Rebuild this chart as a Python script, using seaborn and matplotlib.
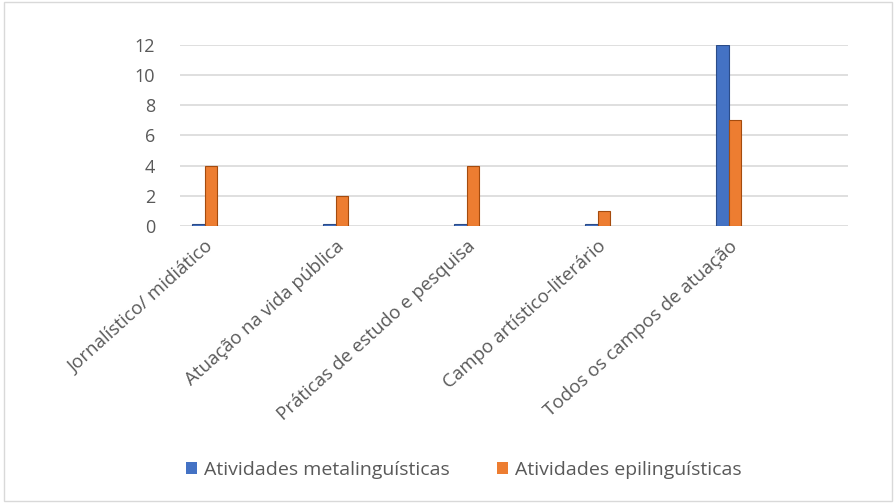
import matplotlib
matplotlib.use("Agg")
import matplotlib.pyplot as plt
import seaborn as sns
import pandas as pd
from matplotlib.patches import Patch

categories = ["Jornalístico/ midiático", "Atuação na vida pública",
              "Práticas de estudo e pesquisa", "Campo artístico-literário",
              "Todos os campos de atuação"]
series_names = ["Atividades metalinguísticas", "Atividades epilinguísticas"]
meta_values = [0, 0, 0, 0, 12]
epi_values = [4, 2, 4, 1, 7]
yticks = [0, 2, 4, 6, 8, 10, 12]

colors = ["#4472C4", "#ED7D31"]

df = pd.DataFrame({
    "categoria": categories * 2,
    "serie": [series_names[0]] * len(categories) + [series_names[1]] * len(categories),
    "valor": meta_values + epi_values,
})

sns.set_theme(style="white")
plt.rcParams['font.family'] = ['Open Sans', 'DejaVu Sans']

fig = plt.figure(figsize=(8.96, 5.03), dpi=100)
ax = fig.add_axes([180/896, 1 - 226/503, (848-180)/896, (226-45)/503])

sns.barplot(data=df, x="categoria", y="valor", hue="serie", palette=colors,
            width=0.19, ax=ax, legend=False, saturation=1)

for patch, c in zip(ax.patches, [colors[0]]*5 + [colors[1]]*5):
    patch.set_edgecolor(sns.utils.set_hls_values(c, l=0.35))
    patch.set_linewidth(0.8)
    if patch.get_height() == 0:
        patch.set_height(0.12)

ax.set_ylim(0, 12)
ax.set_xlim(-0.19, 4.91)
ax.set_yticks(yticks)
ax.yaxis.grid(True, color="#d9d9d9", linewidth=1.2)
ax.set_axisbelow(True)
for s in ax.spines.values():
    s.set_visible(False)
ax.set_xlabel("")
ax.set_ylabel("")
ax.tick_params(axis="y", labelsize=13, labelcolor="#595959", length=0, pad=18)
ax.tick_params(axis="x", labelsize=13.5, labelcolor="#595959", length=0, pad=8)
for lbl in ax.get_xticklabels():
    lbl.set_rotation(42)
    lbl.set_ha("right")
    lbl.set_va("top")
    lbl.set_rotation_mode("anchor")

handles = [Patch(facecolor=c, edgecolor="none") for c in colors]
fig.legend(handles, series_names, loc="center", bbox_to_anchor=(464/896, 1 - 470/503),
           ncol=2, frameon=False, fontsize=14, labelcolor="#595959",
           handlelength=0.55, handleheight=0.55, handletextpad=0.4, columnspacing=2.4)

border = plt.Rectangle((0.004, 0.004), 0.992, 0.992, transform=fig.transFigure,
                       fill=False, edgecolor="#d9d9d9", linewidth=1)
fig.add_artist(border)

fig.savefig("out.png", dpi=100)
